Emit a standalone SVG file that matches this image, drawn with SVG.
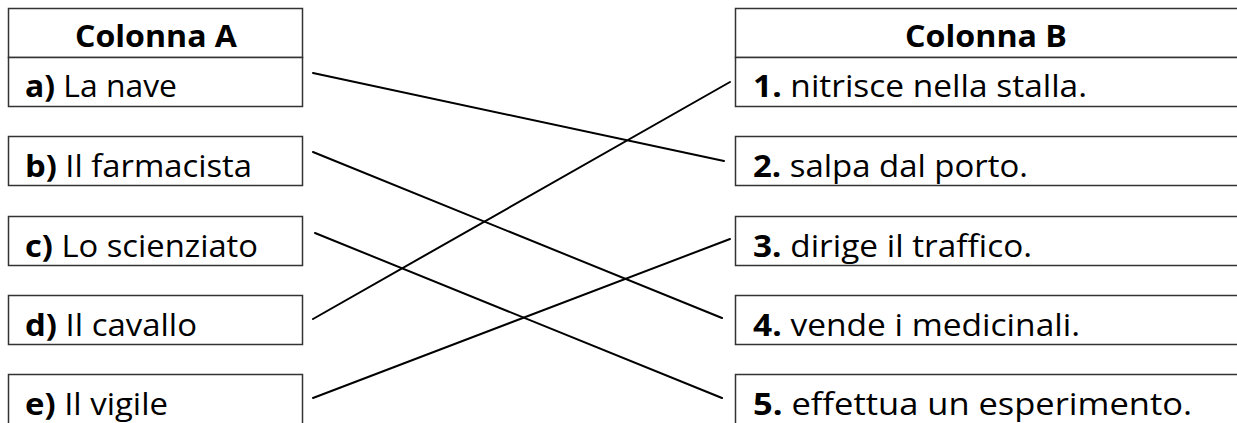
<svg xmlns="http://www.w3.org/2000/svg" width="1237" height="423" viewBox="0 0 1237 423">
<style>
.box{fill:#fff;stroke:#333;stroke-width:1.5}
.t{font-family:"Open Sans","Liberation Sans",sans-serif;font-size:31px;fill:#000}
.b{font-weight:bold}
.h{font-family:"Open Sans","Liberation Sans",sans-serif;font-size:31px;font-weight:bold;fill:#000}
.c{stroke:#000;stroke-width:2;fill:none;stroke-linecap:round}
</style>
<rect x="0" y="0" width="1237" height="423" fill="#fff"/>
<g id="colA">
<rect class="box" x="8.5" y="8.5" width="294" height="49"/>
<text class="h" x="75" y="47" textLength="162" lengthAdjust="spacingAndGlyphs">Colonna A</text>
</g>
<g id="a">
<rect class="box" x="8.5" y="57.5" width="294" height="49"/>
<text class="t" x="25" y="97" textLength="152" lengthAdjust="spacingAndGlyphs"><tspan class="b">a)</tspan> La nave</text>
</g>
<g id="b">
<rect class="box" x="8.5" y="136.5" width="294" height="49"/>
<text class="t" x="25" y="177" textLength="227" lengthAdjust="spacingAndGlyphs"><tspan class="b">b)</tspan> Il farmacista</text>
</g>
<g id="c">
<rect class="box" x="8.5" y="216.5" width="294" height="49"/>
<text class="t" x="25" y="257" textLength="233" lengthAdjust="spacingAndGlyphs"><tspan class="b">c)</tspan> Lo scienziato</text>
</g>
<g id="d">
<rect class="box" x="8.5" y="295.5" width="294" height="49"/>
<text class="t" x="25" y="336" textLength="172" lengthAdjust="spacingAndGlyphs"><tspan class="b">d)</tspan> Il cavallo</text>
</g>
<g id="e">
<rect class="box" x="8.5" y="374.5" width="294" height="60"/>
<text class="t" x="25" y="415" textLength="143" lengthAdjust="spacingAndGlyphs"><tspan class="b">e)</tspan> Il vigile</text>
</g>
<g id="colB">
<rect class="box" x="735.5" y="8.5" width="520" height="49"/>
<text class="h" x="905" y="47" textLength="162" lengthAdjust="spacingAndGlyphs">Colonna B</text>
</g>
<g id="n1">
<rect class="box" x="735.5" y="57.5" width="520" height="49"/>
<text class="t" x="753" y="97" textLength="334" lengthAdjust="spacingAndGlyphs"><tspan class="b">1.</tspan> nitrisce nella stalla.</text>
</g>
<g id="n2">
<rect class="box" x="735.5" y="136.5" width="520" height="49"/>
<text class="t" x="753" y="177" textLength="275" lengthAdjust="spacingAndGlyphs"><tspan class="b">2.</tspan> salpa dal porto.</text>
</g>
<g id="n3">
<rect class="box" x="735.5" y="216.5" width="520" height="49"/>
<text class="t" x="753" y="257" textLength="279" lengthAdjust="spacingAndGlyphs"><tspan class="b">3.</tspan> dirige il traffico.</text>
</g>
<g id="n4">
<rect class="box" x="735.5" y="295.5" width="520" height="49"/>
<text class="t" x="753" y="336" textLength="327" lengthAdjust="spacingAndGlyphs"><tspan class="b">4.</tspan> vende i medicinali.</text>
</g>
<g id="n5">
<rect class="box" x="735.5" y="374.5" width="520" height="60"/>
<text class="t" x="753" y="415" textLength="439" lengthAdjust="spacingAndGlyphs"><tspan class="b">5.</tspan> effettua un esperimento.</text>
</g>
<g id="connectors">
<line class="c" x1="313" y1="73" x2="724" y2="161"/>
<line class="c" x1="313" y1="152" x2="722" y2="318"/>
<line class="c" x1="315" y1="233" x2="722" y2="398"/>
<line class="c" x1="313" y1="319" x2="730" y2="82"/>
<line class="c" x1="313" y1="398" x2="730" y2="239"/>
</g>
</svg>
